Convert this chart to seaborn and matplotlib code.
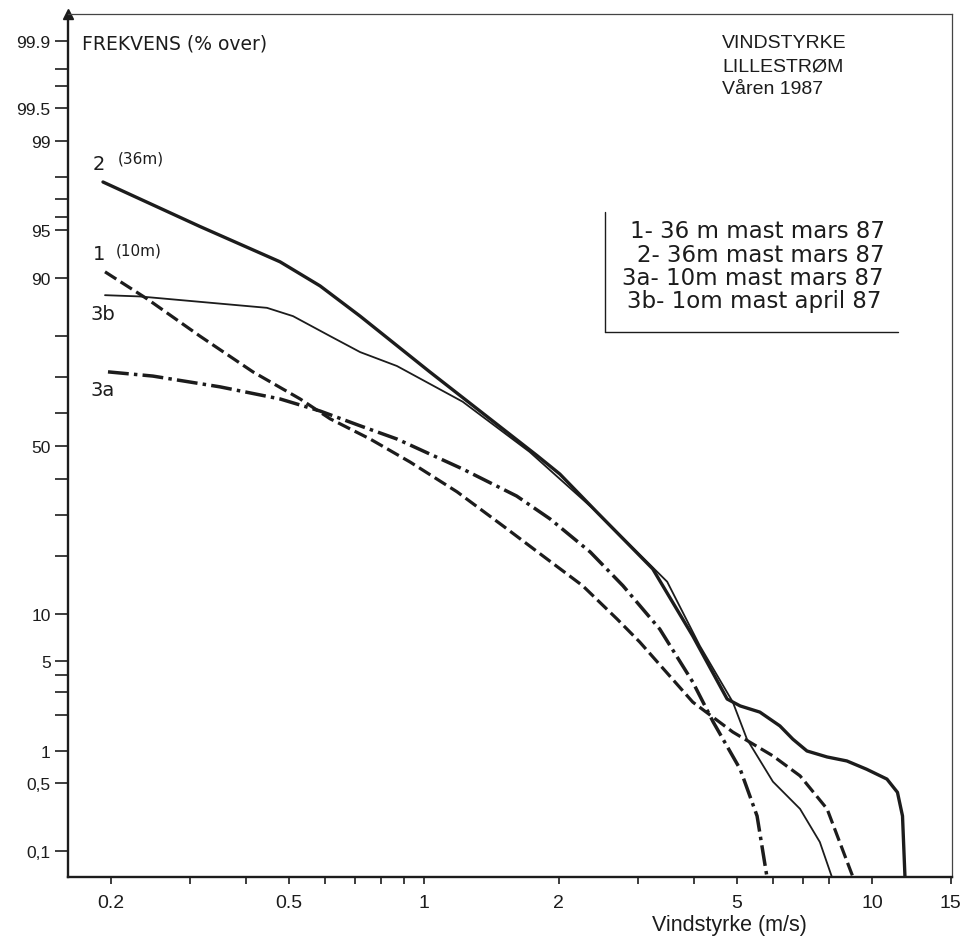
import statistics
import numpy as np
import pandas as pd
import matplotlib
matplotlib.use("Agg")
import matplotlib.pyplot as plt
from matplotlib.lines import Line2D
import seaborn as sns

# ---------------- data ----------------
# wind speed (m/s) and frequency (% exceeding)
c1_x = [0.194, 0.241, 0.316, 0.415, 0.529, 0.617, 0.758, 0.931, 1.185, 1.50, 1.84,
        2.26, 2.70, 3.03, 3.98, 4.89, 6.01, 6.91, 7.94, 9.07]
c1_y = [90.8, 86.9, 79.9, 71.4, 64.0, 58.2, 52.1, 45.1, 36.3, 27.1, 20.1,
        14.3, 9.3, 6.73, 2.53, 1.45, 0.90, 0.59, 0.28, 0.05]

c2_x = [0.192, 0.316, 0.477, 0.586, 0.720, 1.03, 1.79, 2.01, 2.43, 3.24, 3.98,
        4.75, 5.08, 5.62, 6.23, 6.66, 7.16, 7.94, 8.79, 9.73, 10.8, 11.4, 11.7, 11.85]
c2_y = [97.8, 95.3, 92.0, 88.9, 83.9, 71.4, 47.0, 41.5, 30.7, 17.4, 7.35,
        2.67, 2.36, 2.11, 1.63, 1.26, 0.995, 0.88, 0.81, 0.68, 0.55, 0.41, 0.237, 0.05]

c3a_x = [0.197, 0.248, 0.350, 0.477, 0.586, 0.720, 0.870, 1.22, 1.61, 1.91, 2.35,
         2.78, 3.36, 3.98, 4.42, 5.08, 5.54, 5.83]
c3a_y = [71.4, 70.3, 67.4, 64.0, 60.5, 56.1, 52.1, 43.0, 35.1, 28.9, 20.9,
         14.3, 8.1, 3.58, 1.76, 0.68, 0.237, 0.05]

c3b_x = [0.194, 0.232, 0.446, 0.510, 0.617, 0.720, 0.870, 1.22, 1.72, 2.43, 3.49,
         4.13, 4.89, 5.26, 6.01, 6.91, 7.65, 8.14]
c3b_y = [87.5, 87.3, 85.4, 83.9, 79.9, 76.3, 72.9, 63.2, 48.2, 30.7, 15.0,
         6.34, 2.53, 1.26, 0.52, 0.28, 0.125, 0.05]

y_major = [99.9, 99.5, 99, 95, 90, 50, 10, 5, 1, 0.5, 0.1]
y_major_labels = ["99.9", "99.5", "99", "95", "90", "50", "10", "5", "1", "0,5", "0,1"]
y_minor = [99.8, 99.7, 98, 97, 96, 80, 70, 60, 40, 30, 20, 4, 3, 2]
x_major = [0.2, 0.5, 1, 2, 5, 10, 15]
x_major_labels = ["0.2", "0.5", "1", "2", "5", "10", "15"]
x_minor = [0.3, 0.4, 0.6, 0.7, 0.8, 0.9, 3, 4, 6, 7, 8]

legend_lines = ["1- 36 m mast mars 87", "2- 36m mast mars 87",
                "3a- 10m mast mars 87", "3b- 1om mast april 87"]
title_lines = ["VINDSTYRKE", "LILLESTRØM", "Våren 1987"]

# ---------------- style ----------------
sns.set_style("ticks")
plt.rcParams["font.family"] = ["Liberation Sans", "DejaVu Sans"]
INK = "#1c1c1c"

W, H = 966, 937
fig = plt.figure(figsize=(W / 100, H / 100), dpi=100)
fig.patch.set_facecolor("white")
L, R, T, B = 68, 952, 15, 878
ax = fig.add_axes([L / W, 1 - B / H, (R - L) / W, (B - T) / H])

def fx(px):
    return px / W

def fy(py):
    return 1 - py / H

# normal-probability scale for the frequency axis
_nd = statistics.NormalDist()
_ppf = np.vectorize(lambda q: _nd.inv_cdf(q), otypes=[float])
_cdf = np.vectorize(lambda z: _nd.cdf(z), otypes=[float])

def prob_fwd(p):
    p = np.asarray(p, dtype=float)
    q = np.clip(np.where(np.isfinite(p), p, 50.0) / 100.0, 1e-7, 1 - 1e-7)
    out = _ppf(q)
    return np.where(np.isfinite(p), out, np.nan)

def prob_inv(z):
    z = np.asarray(z, dtype=float)
    zz = np.where(np.isfinite(z), z, 0.0)
    out = _cdf(zz) * 100.0
    return np.where(np.isfinite(z), out, np.nan)

ax.set_xscale("log")
ax.set_yscale("function", functions=(prob_fwd, prob_inv))

# ---------------- curves ----------------
curves = [
    ("1", c1_x, c1_y, 2.3, (4.2, 1.6)),
    ("2", c2_x, c2_y, 2.4, None),
    ("3a", c3a_x, c3a_y, 2.5, (6.0, 1.5, 1.0, 1.5)),
    ("3b", c3b_x, c3b_y, 1.3, None),
]
for name, xs, ys, lw, dash in curves:
    df = pd.DataFrame({"speed": xs, "freq": ys})
    sns.lineplot(data=df, x="speed", y="freq", ax=ax, color=INK, linewidth=lw,
                 estimator=None, sort=False, legend=False)
    ln = ax.lines[-1]
    ln.set_solid_capstyle("round")
    ln.set_solid_joinstyle("round")
    if dash is not None:
        ln.set_dashes(dash)
        ln.set_dash_capstyle("butt")

ax.set_xlim(0.1604, 15.09)
ax.set_ylim(0.0501, 99.951)

# ---------------- axes decoration ----------------
ax.set_yticks(y_major)
ax.set_yticklabels(y_major_labels)
ax.set_yticks(y_minor, minor=True)
ax.set_yticklabels([], minor=True)
ax.set_xticks(x_major)
ax.set_xticklabels(x_major_labels)
ax.set_xticks(x_minor, minor=True)
ax.set_xticklabels([], minor=True)

ax.tick_params(axis="y", which="both", direction="out", length=9.5, width=1.2,
               color=INK, pad=3, labelsize=12.5, labelcolor=INK)
ax.tick_params(axis="x", which="both", direction="out", length=5, width=1.2,
               color=INK, pad=7, labelsize=14, labelcolor=INK)

for s in ["left", "bottom"]:
    ax.spines[s].set_linewidth(1.7)
    ax.spines[s].set_color(INK)
for s in ["top", "right"]:
    ax.spines[s].set_linewidth(0.9)
    ax.spines[s].set_color("#444444")

ax.set_ylabel("")
ax.set_xlabel("Vindstyrke (m/s)", fontsize=15.5, color=INK)
ax.xaxis.set_label_coords((729 - L) / (R - L), -0.043)

# arrow head on the frequency axis
ax.plot([0], [1], marker="^", markersize=7, color=INK, transform=ax.transAxes,
        clip_on=False)

# axis caption inside the plot
fig.text(fx(82), fy(44), "FREKVENS (% over)", fontsize=13.5, color=INK,
         family=["DejaVu Sans"], ha="left", va="center")

# title block
for i, t in enumerate(title_lines):
    fig.text(fx(722), fy(43 + 23.5 * i), t, fontsize=14, color=INK,
             ha="left", va="center")

# legend box (hand-drawn frame)
fig.add_artist(Line2D([fx(605), fx(605)], [fy(213), fy(333)], color=INK, lw=1.0))
fig.add_artist(Line2D([fx(605), fx(898)], [fy(333), fy(333)], color=INK, lw=1.0))
leg_left = [630, 637, 622, 627]
for i, t in enumerate(legend_lines):
    fig.text(fx(leg_left[i]), fy(232 + 23.3 * i), t, fontsize=16.5, color=INK,
             family=["DejaVu Sans"], ha="left", va="center")

# curve labels near the start of the curves
hand = dict(color=INK, family=["DejaVu Sans"], va="center", ha="left")
fig.text(fx(93), fy(164), "2", fontsize=14, **hand)
fig.text(fx(118), fy(159), "(36m)", fontsize=11, **hand)
fig.text(fx(93), fy(254), "1", fontsize=14, **hand)
fig.text(fx(116), fy(251), "(10m)", fontsize=11, **hand)
fig.text(fx(90), fy(314), "3b", fontsize=14, **hand)
fig.text(fx(90), fy(391), "3a", fontsize=14, **hand)

fig.savefig("out.png", dpi=100, facecolor="white")
